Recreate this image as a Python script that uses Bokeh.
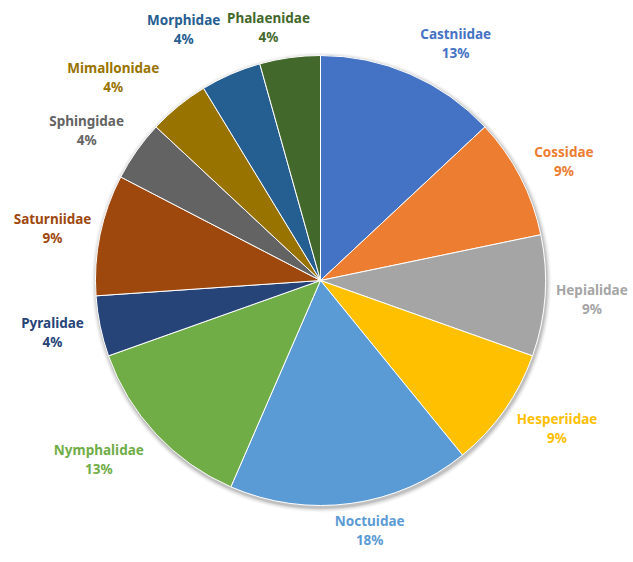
import numpy as np
from bokeh.plotting import figure
from bokeh.models import Range1d, ColumnDataSource
from bokeh.core.properties import value
from bokeh.embed import file_html
from bokeh.resources import INLINE

# ---- data ----
families = ["Castniidae", "Cossidae", "Hepialidae", "Hesperiidae", "Noctuidae",
            "Nymphalidae", "Pyralidae", "Saturniidae", "Sphingidae",
            "Mimallonidae", "Morphidae", "Phalaenidae"]
counts = [3, 2, 2, 2, 4, 3, 1, 2, 1, 1, 1, 1]
pct_labels = ["13%", "9%", "9%", "9%", "18%", "13%", "4%", "9%", "4%", "4%", "4%", "4%"]
colors = ["#4472C4", "#ED7D31", "#A5A5A5", "#FFC000", "#5B9BD5", "#70AD47",
          "#264478", "#9E480E", "#636363", "#997300", "#255E91", "#43682B"]

# ---- layout (label placement tweaks, like Excel best-fit) ----
label_nudge_deg = [6.2, 1.3, 0, -3.2, -3.3, 4.1, 0.7, -0.7, -2.5, -6.5, -5.1, -3.8]
label_dist = [273, 271, 272, 279, 255, 285, 273, 273, 278, 290, 286, 258]

W, H = 633, 562
cx, cy, R = 320, 282, 225

vals = np.array(counts, dtype=float)
frac = vals / vals.sum()
cum_end = np.cumsum(frac)
cum_start = cum_end - frac
start_angle = np.pi / 2 - 2 * np.pi * cum_start
end_angle = np.pi / 2 - 2 * np.pi * cum_end
mid = 2 * np.pi * (cum_start + cum_end) / 2 + np.radians(label_nudge_deg)
lx = cx + np.array(label_dist) * np.sin(mid)
ly = cy + np.array(label_dist) * np.cos(mid)

src = ColumnDataSource(dict(start=start_angle, end=end_angle, color=colors,
                            name=families, pct=pct_labels,
                            lx=lx, ly1=ly + 9.5, ly2=ly - 9.5))

p = figure(width=W, height=H, x_range=Range1d(0, W), y_range=Range1d(562 - H, 562),
           output_backend="svg", toolbar_location=None, min_border=0)
p.axis.visible = False
p.grid.visible = False
p.outline_line_color = None
p.background_fill_color = "white"

# soft shadow
for k, a in [(5, 0.025), (4, 0.035), (3, 0.05), (2, 0.07), (1, 0.09)]:
    p.circle(x=[cx + 1], y=[cy - 2], radius=R + k, fill_color="black",
             fill_alpha=a, line_color=None)

p.wedge(x=cx, y=cy, radius=R, start_angle="start", end_angle="end",
        direction="clock", fill_color="color", line_color="white",
        line_width=1, source=src)

common = dict(text_align="center", text_baseline="middle",
              text_font=value("Noto Sans"), text_font_style="bold",
              text_font_size="13.5px", text_color="color", source=src)
p.text(x="lx", y="ly1", text="name", **common)
p.text(x="lx", y="ly2", text="pct", **common)

open("out.html", "w").write(file_html(p, INLINE))
